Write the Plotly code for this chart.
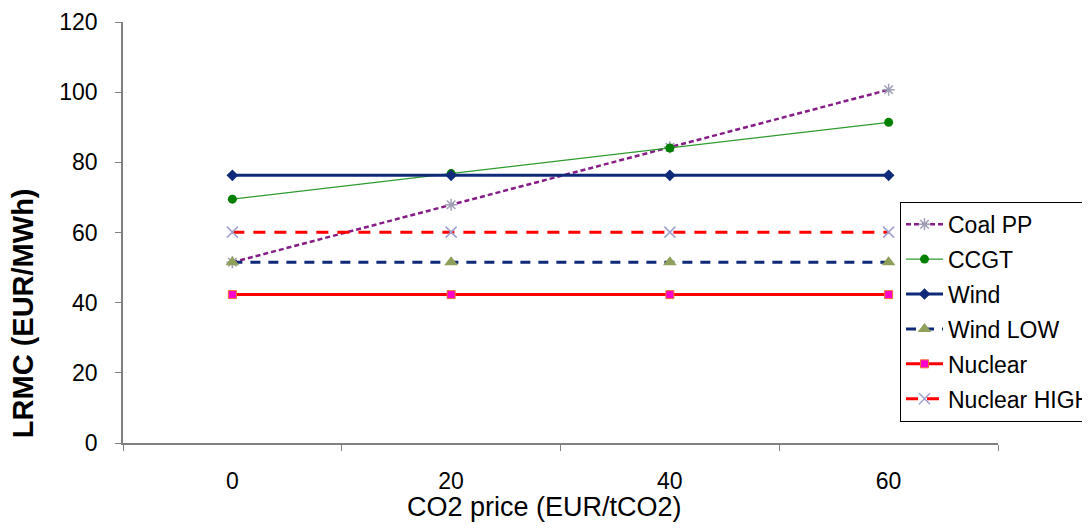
import plotly.graph_objects as go

co2_price = ["0", "20", "40", "60"]
coal_pp = [51.5, 67.9, 84.3, 100.7]
ccgt = [69.5, 76.8, 84.1, 91.4]
wind = [76.3, 76.3, 76.3, 76.3]
wind_low = [51.5, 51.5, 51.5, 51.5]
nuclear = [42.3, 42.3, 42.3, 42.3]
nuclear_high = [60.1, 60.1, 60.1, 60.1]

fig = go.Figure()
fig.add_trace(go.Scatter(x=co2_price, y=coal_pp, name="Coal PP", mode="lines+markers", legendgroup="a",
                         line=dict(color="#861C86", width=2.5, dash="5px,3px"),
                         marker=dict(symbol="asterisk", size=10, color="#A0A0B8",
                                     line=dict(color="#A0A0B8", width=1.5))))
fig.add_trace(go.Scatter(x=co2_price, y=ccgt, name="CCGT", mode="lines+markers", legendgroup="b",
                         line=dict(color="#2E9B2E", width=1.2),
                         marker=dict(symbol="circle", size=9, color="#008000")))
fig.add_trace(go.Scatter(x=co2_price, y=wind, name="Wind", mode="lines+markers", legendgroup="c",
                         line=dict(color="#0F2A78", width=3),
                         marker=dict(symbol="diamond", size=9, color="#0F2A78")))
fig.add_trace(go.Scatter(x=co2_price, y=wind_low, name="Wind LOW", mode="lines+markers", legendgroup="d",
                         line=dict(color="#0F2A78", width=3, dash="10px,8px"),
                         marker=dict(symbol="triangle-up", size=12, color="#8FA05A")))
fig.add_trace(go.Scatter(x=co2_price, y=nuclear, name="Nuclear", mode="lines+markers", legendgroup="e",
                         line=dict(color="#FF0000", width=3),
                         marker=dict(symbol="square", size=8, color="#FF00CC",
                                     line=dict(color="#F07030", width=1))))
fig.add_trace(go.Scatter(x=co2_price, y=nuclear_high, name="Nuclear HIGH", mode="lines+markers", legendgroup="f",
                         line=dict(color="#FF0000", width=3, dash="12px,9px"),
                         marker=dict(symbol="x-thin", size=11, color="#A0A0D0",
                                     line=dict(color="#A0A0D0", width=1.5))))

fig.update_layout(
    width=1120, height=529,
    margin=dict(l=115, r=130, t=14, b=94),
    paper_bgcolor="white", plot_bgcolor="white",
    font=dict(family="Liberation Sans, Arial", size=23, color="black"),
    showlegend=True,
    legend=dict(x=0.888, y=0.573, xanchor="left", yanchor="top",
                bordercolor="black", borderwidth=1, bgcolor="white",
                font=dict(size=23), tracegroupgap=2, itemwidth=37),
    xaxis=dict(type="category", range=[-0.5, 3.5], showgrid=False, automargin=False,
               showline=True, linecolor="#808080", linewidth=1.5,
               ticks="outside", tickson="boundaries", ticklen=6, tickcolor="#808080",
               ticklabelstandoff=17, tickfont=dict(size=23),
               zeroline=False),
    yaxis=dict(range=[0, 120], dtick=20, showgrid=False, automargin=False,
               showline=True, linecolor="#808080", linewidth=1.5,
               ticks="outside", ticklen=6, tickcolor="#808080",
               ticklabelstandoff=13, tickfont=dict(size=23),
               zeroline=False),
    annotations=[
        dict(text="<b>LRMC (EUR/MWh)</b>", textangle=-90, showarrow=False,
             xref="paper", yref="paper", x=-0.114, y=0.309,
             xanchor="center", yanchor="middle", font=dict(size=29)),
        dict(text="CO2 price (EUR/tCO2)", showarrow=False,
             xref="paper", yref="paper", x=0.482, y=-0.152,
             xanchor="center", yanchor="middle", font=dict(size=27)),
    ],
)

fig.write_html("out.html")
